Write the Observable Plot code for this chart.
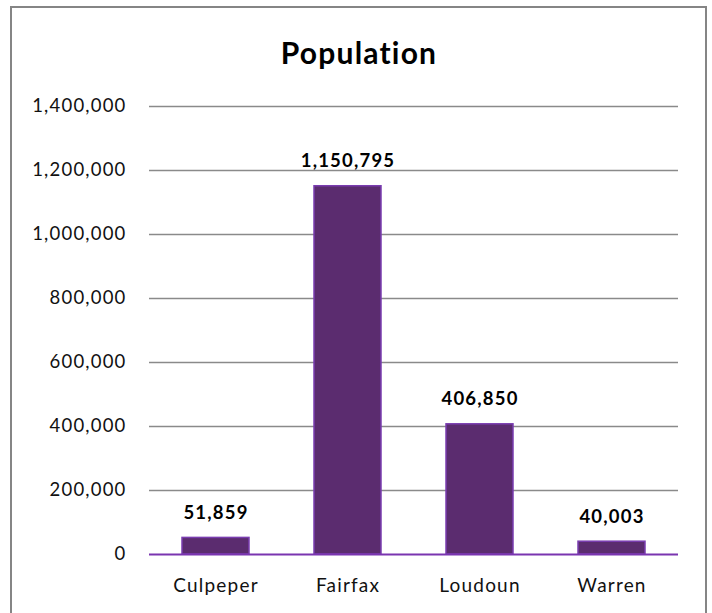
<!DOCTYPE html>
<html>
<head>
<meta charset="utf-8">
<script src="https://cdn.jsdelivr.net/npm/d3@7"></script>
<script src="https://cdn.jsdelivr.net/npm/@observablehq/plot@0.6"></script>
<style>
  html, body { margin: 0; padding: 0; background: #fff; }
  #wrap { position: relative; width: 712px; height: 613px; overflow: hidden; }
  #border { position: absolute; left: 10px; top: 6px; width: 697px; height: 640px; border: 2px solid #858585; box-sizing: border-box; pointer-events: none; }
  svg text { letter-spacing: 1.2px; }
</style>
</head>
<body>
<div id="wrap"><div id="border"></div></div>
<script>
const title = "Population";
const counties = ["Culpeper", "Fairfax", "Loudoun", "Warren"];
const population = [51859, 1150795, 406850, 40003];
const yTicks = [0, 200000, 400000, 600000, 800000, 1000000, 1200000, 1400000];

const data = counties.map((c, i) => ({county: c, value: population[i]}));
const fmt = d3.format(",");
const font = "Lato, 'Open Sans', sans-serif";

const chart = Plot.plot({
  width: 712,
  height: 613,
  marginLeft: 149,
  marginRight: 34,
  marginTop: 106,
  marginBottom: 59,
  style: {fontFamily: font, fontSize: "18px", color: "#111", background: "transparent"},
  x: {domain: counties, paddingInner: 0.49, paddingOuter: 0.245, axis: null},
  y: {domain: [0, 1400000], axis: null},
  marks: [
    Plot.ruleY(yTicks.filter(d => d > 0), {stroke: "#8a8a8a", strokeWidth: 1.5}),
    Plot.axisY(yTicks, {tickSize: 0, tickPadding: 23, tickFormat: fmt, fontSize: 18.5, fill: "#111", label: null}),
    Plot.barY(data, {x: "county", y: "value", fill: "#5b2c6f", stroke: "#7a3db0", strokeWidth: 1.5}),
    Plot.ruleY([0], {stroke: "#7a35b0", strokeWidth: 2}),
    Plot.text(data, {x: "county", y: "value", text: d => fmt(d.value), lineAnchor: "bottom", dy: -19, fontWeight: "bold", fontSize: 18.5, fill: "#000"}),
    Plot.text(data, {x: "county", y: 0, text: "county", lineAnchor: "bottom", dy: 37, fontSize: 19, fill: "#111"}),
    Plot.text([title], {frameAnchor: "top", text: d => d, lineAnchor: "bottom", dx: -55, dy: -43, fontWeight: "bold", fontSize: 30, fill: "#000", ariaLabel: "title"})
  ]
});
chart.style.position = "absolute";
chart.style.left = "0";
chart.style.top = "0";
document.getElementById("wrap").prepend(chart);
d3.select(chart).selectAll("g[aria-label=title] text").style("letter-spacing", "2px");
</script>
</body>
</html>
